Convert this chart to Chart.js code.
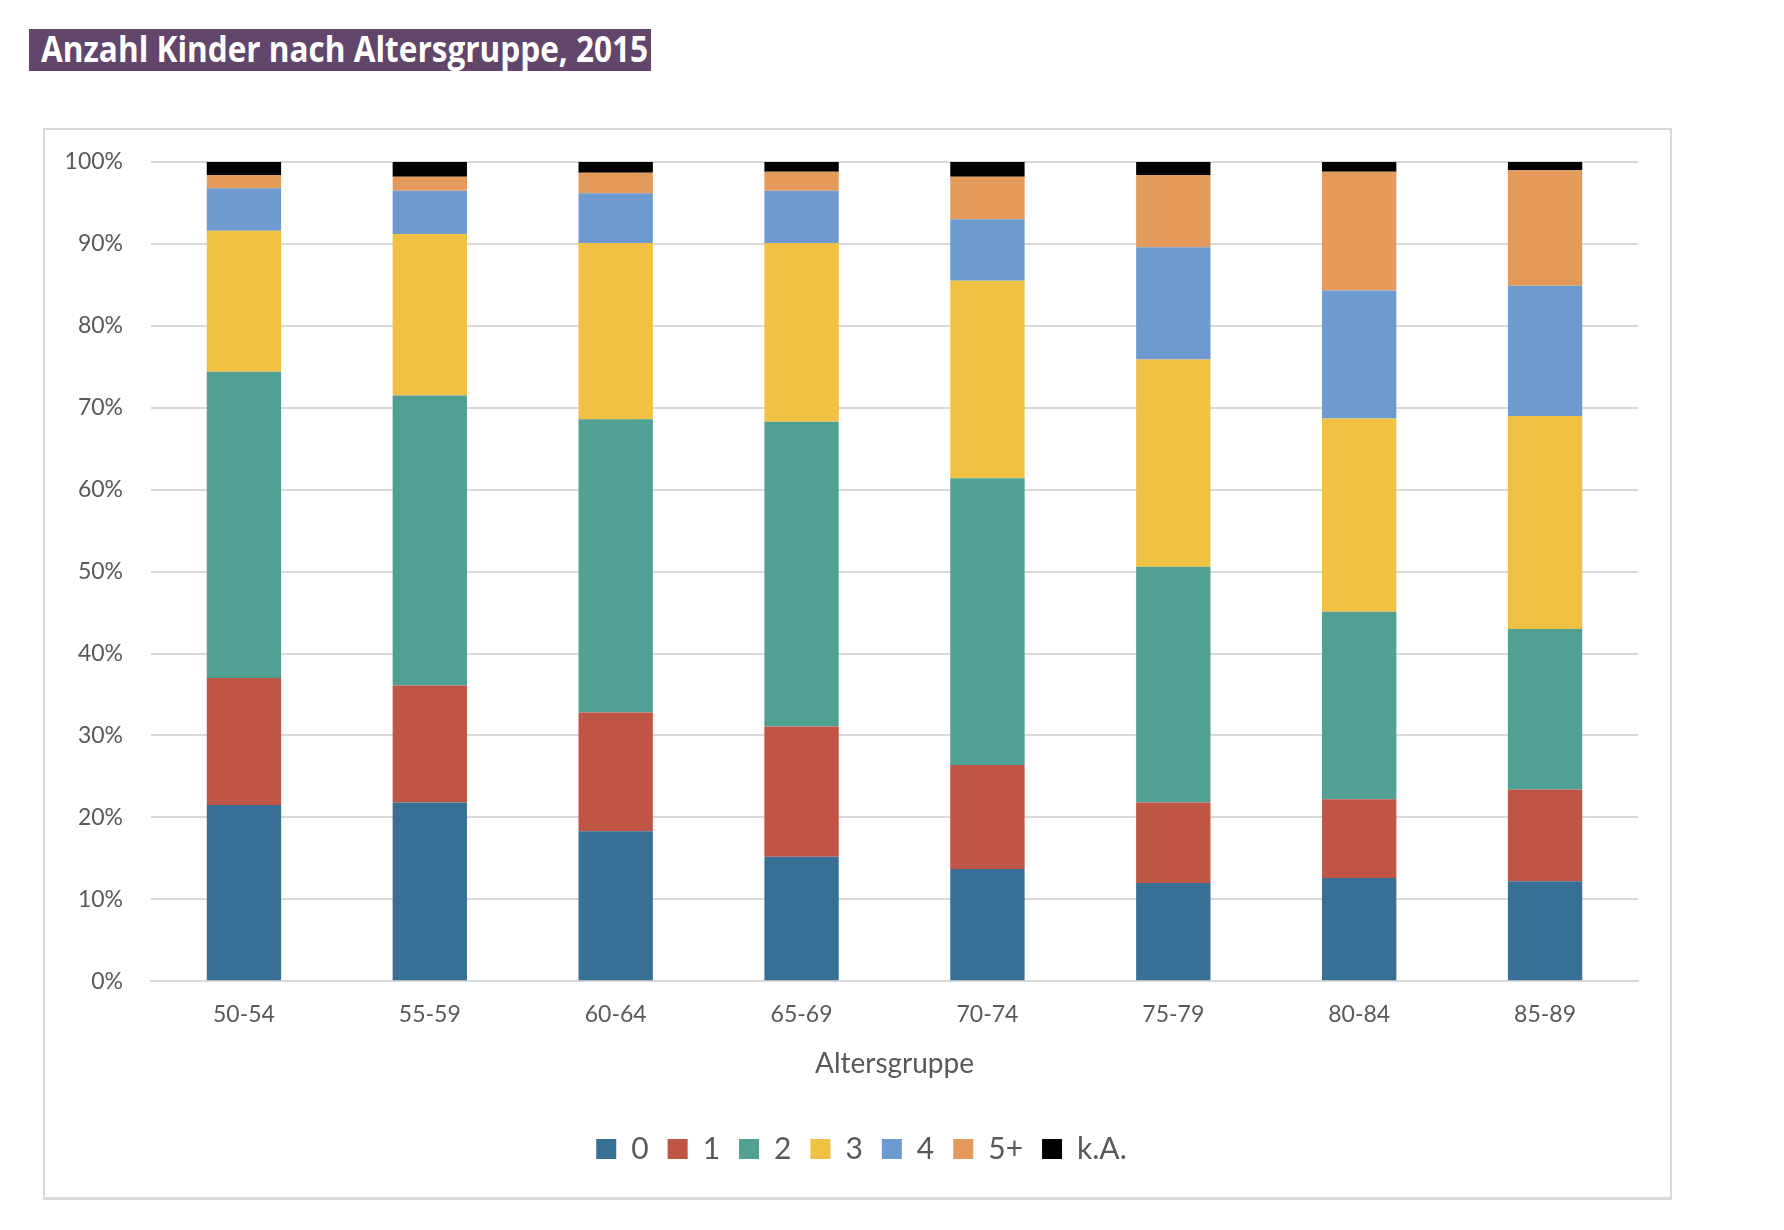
<!DOCTYPE html>
<html>
<head>
<meta charset="utf-8">
<script src="https://cdn.jsdelivr.net/npm/chart.js@4"></script>
<style>
  body { margin: 0; background: #fff; }
  #title {
    position: absolute; left: 29px; top: 29px; width: 622px; height: 42px;
    background: #62456a; overflow: hidden;
  }
  #title span {
    position: absolute; left: 12px; top: 0; line-height: 40px;
    color: #fff; font-family: "Open Sans", sans-serif; font-weight: bold; font-size: 36px;
    white-space: nowrap; transform-origin: 0 50%;
  }
  #frame {
    position: absolute; left: 43px; top: 128px; width: 1629px; height: 1072px;
    border: 2px solid #d9d9d9; border-bottom-width: 3px; box-sizing: border-box;
  }
  #wrap { position: absolute; left: 43px; top: 128px; width: 1629px; height: 1072px; }
</style>
</head>
<body>
<div id="title"><span id="titleText">Anzahl Kinder nach Altersgruppe, 2015</span></div>
<div id="frame"></div>
<div id="wrap"><canvas id="chart"></canvas></div>
<script>
const groups = ['50-54', '55-59', '60-64', '65-69', '70-74', '75-79', '80-84', '85-89'];
const seriesNames = ['0', '1', '2', '3', '4', '5+', 'k.A.'];
const kids0 = [21.5, 21.8, 18.3, 15.2, 13.7, 12.0, 12.6, 12.2];
const kids1 = [15.5, 14.3, 14.5, 15.9, 12.7, 9.8, 9.6, 11.2];
const kids2 = [37.4, 35.4, 35.8, 37.2, 35.0, 28.8, 22.9, 19.6];
const kids3 = [17.2, 19.7, 21.5, 21.8, 24.1, 25.3, 23.6, 26.0];
const kids4 = [5.2, 5.3, 6.1, 6.4, 7.5, 13.7, 15.6, 15.9];
const kids5plus = [1.6, 1.7, 2.5, 2.3, 5.2, 8.8, 14.5, 14.1];
const kidsNA = [1.6, 1.8, 1.3, 1.2, 1.8, 1.6, 1.2, 1.0];
const colors = ['#386f94', '#bf5545', '#50a093', '#f0c142', '#6e9bcf', '#e39a5a', '#000000'];

const values = [kids0, kids1, kids2, kids3, kids4, kids5plus, kidsNA];
const tickColor = '#595959';
const font = 'Lato';

// squeeze the title to the width of the condensed original
const tt = document.getElementById('titleText');
tt.style.transform = 'scaleX(' + (607 / tt.offsetWidth) + ')';

// the legend is centred on the whole frame, not on the area right of the y axis
const shiftLegend = {
  id: 'shiftLegend',
  afterLayout(chart) {
    chart.legend.left += 21;
    chart.legend.right += 21;
  }
};

const ctx = document.getElementById('chart');
new Chart(ctx, {
  type: 'bar',
  data: {
    labels: groups,
    datasets: seriesNames.map((name, i) => ({
      label: name,
      data: values[i],
      backgroundColor: colors[i],
      borderWidth: 0,
      categoryPercentage: 1,
      barPercentage: 0.40
    }))
  },
  options: {
    responsive: true,
    maintainAspectRatio: false,
    animation: false,
    layout: { padding: { left: 0, right: 34, top: 34, bottom: 26 } },
    plugins: {
      tooltip: { enabled: false },
      legend: {
        position: 'bottom',
        labels: {
          font: { family: font, size: 30 },
          color: tickColor,
          boxWidth: 20,
          boxHeight: 20,
          padding: 19
        }
      }
    },
    scales: {
      x: {
        stacked: true,
        grid: { display: false, drawTicks: false },
        border: { color: '#d9d9d9', width: 2 },
        ticks: { color: tickColor, font: { family: font, size: 23 }, padding: 20 },
        title: {
          display: true,
          text: 'Altersgruppe',
          color: tickColor,
          font: { family: font, size: 28 },
          padding: { top: -2, bottom: 34.6 }
        }
      },
      y: {
        stacked: true,
        min: 0,
        max: 100,
        grid: { color: '#d9d9d9', lineWidth: 2, tickColor: 'rgba(0,0,0,0)', tickLength: 22 },
        border: { display: false },
        ticks: {
          stepSize: 10,
          color: tickColor,
          font: { family: font, size: 23 },
          padding: 6,
          callback: v => v + '%'
        },
        afterFit: scale => { scale.width = 108; }
      }
    }
  },
  plugins: [shiftLegend]
});
</script>
</body>
</html>
